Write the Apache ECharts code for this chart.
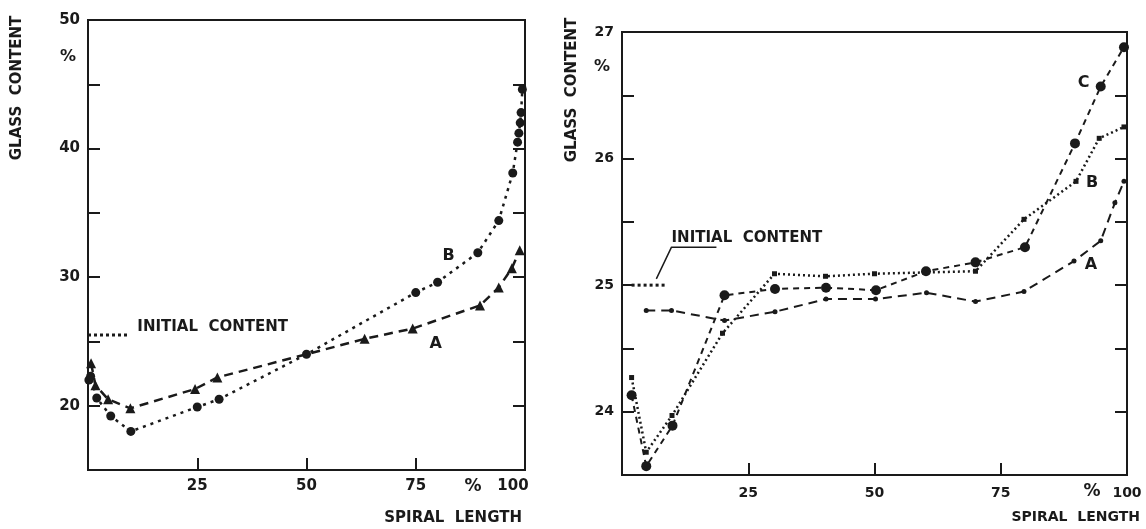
<!DOCTYPE html>
<html>
<head>
<meta charset="utf-8">
<script src="https://cdn.jsdelivr.net/npm/echarts@6/dist/echarts.min.js"></script>
<style>html,body{margin:0;padding:0;background:#fff}#c{width:1146px;height:529px}</style>
</head>
<body>
<div id="c"></div>
<script>
// ---- Left chart data: [spiral length %, glass content %]
const leftB = [[0.2,22.0],[0.6,22.3],[2,20.6],[5.2,19.2],[9.8,18.0],[25,19.9],[30,20.5],[50,24.0],[75,28.8],[80,29.6],[89.2,31.9],[94,34.4],[97.2,38.1],[98.3,40.5],[98.6,41.2],[98.9,42.0],[99.1,42.8],[99.4,44.6]];
const leftA = [[0.7,23.3],[1.7,21.6],[4.6,20.5],[9.7,19.8],[24.5,21.3],[29.6,22.2],[50,24.0],[63.3,25.2],[74.3,26.0],[89.7,27.8],[94,29.2],[97,30.7],[98.8,32.1]];
const leftInitial = [[0,25.5],[9,25.5]];
// ---- Right chart data
const rightA = [[4.8,24.80],[9.8,24.80],[20.3,24.72],[30.3,24.79],[40.4,24.89],[50.2,24.89],[60.3,24.94],[70,24.87],[79.6,24.95],[89.5,25.19],[94.8,25.35],[97.6,25.65],[99.4,25.82]];
const rightB = [[1.9,24.27],[4.8,23.68],[9.9,23.97],[19.9,24.62],[30.2,25.09],[40.3,25.07],[50,25.09],[60,25.10],[70,25.11],[79.6,25.52],[89.9,25.82],[94.5,26.16],[99.4,26.25]];
const rightC = [[1.9,24.13],[4.8,23.57],[10,23.89],[20.3,24.92],[30.3,24.97],[40.4,24.98],[50.3,24.96],[60.2,25.11],[70,25.18],[79.8,25.30],[89.7,26.12],[94.8,26.57],[99.4,26.88]];
const rightInitial = [[1.9,25.0],[9,25.0]];
const rightLeader = [[6.8,25.05],[9.8,25.30],[18.7,25.30]];
// ---- Axis settings / texts
const leftY = {min:15, max:50, interval:5};
const rightY = {min:23.5, max:27, interval:0.5};
const xRange = {min:0, max:100, interval:25};
const yTitle = 'GLASS  CONTENT';
const xTitle = 'SPIRAL  LENGTH';
const initialText = 'INITIAL  CONTENT';

const FONT = 'DejaVu Sans';
const INK = '#1a1a1a';

function withLabel(data, idx, text, offset, hideIdx) {
  return data.map((p, i) => {
    const o = {value: p};
    if (i === idx) o.label = {show:true, formatter:text, position:'inside', offset:offset, fontSize:16, fontWeight:'bold', color:INK, fontFamily:FONT};
    if (hideIdx !== undefined && hideIdx.indexOf(i) >= 0) o.symbol = 'none';
    return o;
  });
}

function xAxis(gi, fs, margin, shift100) {
  return {
    type:'value', gridIndex:gi, min:xRange.min, max:xRange.max, interval:xRange.interval,
    splitLine:{show:false},
    axisLine:{lineStyle:{color:INK, width:2}},
    axisTick:{inside:true, length:12, lineStyle:{color:INK, width:2}},
    axisLabel:{
      margin:margin, color:INK, fontSize:fs, fontWeight:'bold', fontFamily:FONT,
      showMinLabel:true, showMaxLabel:true,
      formatter:v => v === 0 ? '' : (v === 100 ? (shift100 ? '{n|100}{s|}' : '100') : String(v)),
      rich:{n:{fontSize:fs, fontWeight:'bold', fontFamily:FONT, color:INK}, s:{width:shift100||0}}
    }
  };
}
function yAxis(gi, cfg, fs, pos, fmt) {
  return {
    type:'value', gridIndex:gi, position:pos, min:cfg.min, max:cfg.max, interval:cfg.interval,
    splitLine:{show:false},
    axisLine:{show:true, lineStyle:{color:INK, width:2}},
    axisTick:{inside:true, length:12, lineStyle:{color:INK, width:2}},
    axisLabel:{show: pos === 'left', margin:8, color:INK, fontSize:fs, fontWeight:'bold', fontFamily:FONT, formatter:fmt}
  };
}

const chart = echarts.init(document.getElementById('c'), null, {renderer:'canvas'});
chart.setOption({
  animation:false,
  backgroundColor:'#fff',
  grid:[
    {left:88, top:20, width:437, height:450, show:true, borderColor:INK, borderWidth:2, backgroundColor:'transparent'},
    {left:622, top:32, width:505, height:443, show:true, borderColor:INK, borderWidth:2, backgroundColor:'transparent'}
  ],
  xAxis:[xAxis(0, 15, 9, 24), xAxis(1, 14, 11, 0)],
  yAxis:[
    yAxis(0, leftY, 15, 'left', v => (Math.abs(v % 10) < 1e-6 && v !== 15) ? String(v) : ''),
    yAxis(0, leftY, 15, 'right', ''),
    yAxis(1, rightY, 14, 'left', v => Math.abs(v - Math.round(v)) < 1e-6 ? String(Math.round(v)) : ''),
    yAxis(1, rightY, 14, 'right', '')
  ],
  series:[
    {type:'line', xAxisIndex:0, yAxisIndex:0, data:withLabel(leftB, 9, 'B', [11,-26]),
     symbol:'circle', symbolSize:9, itemStyle:{color:INK}, lineStyle:{color:INK, width:2.5, type:[3,5]}},
    {type:'line', xAxisIndex:0, yAxisIndex:0, data:withLabel(leftA, 8, 'A', [23,15], [6]),
     symbol:'triangle', symbolSize:10, itemStyle:{color:INK}, lineStyle:{color:INK, width:2.5, type:[9,6]}},
    {type:'line', xAxisIndex:0, yAxisIndex:0,
     data:leftInitial.map((p,i)=> i===leftInitial.length-1 ? {value:p, label:{show:true, formatter:initialText, position:'right', distance:10, offset:[0,-8], fontSize:15, fontWeight:'bold', color:INK, fontFamily:FONT}} : {value:p}),
     symbol:'circle', symbolSize:0.01, itemStyle:{color:INK}, lineStyle:{color:INK, width:3, type:[3,3]}},

    {type:'line', xAxisIndex:1, yAxisIndex:2, data:withLabel(rightA, 9, 'A', [17,4]),
     symbol:'circle', symbolSize:5, itemStyle:{color:INK}, lineStyle:{color:INK, width:2, type:[9,6]}},
    {type:'line', xAxisIndex:1, yAxisIndex:2, data:withLabel(rightB, 10, 'B', [16,1]),
     symbol:'rect', symbolSize:5, itemStyle:{color:INK}, lineStyle:{color:INK, width:2.5, type:[2,3]}},
    {type:'line', xAxisIndex:1, yAxisIndex:2, data:withLabel(rightC, 11, 'C', [-17,-4]),
     symbol:'circle', symbolSize:10, itemStyle:{color:INK}, lineStyle:{color:INK, width:2, type:[6,5]}},
    {type:'line', xAxisIndex:1, yAxisIndex:2, data:rightInitial,
     symbol:'none', lineStyle:{color:INK, width:3, type:[3,3]}},
    {type:'line', xAxisIndex:1, yAxisIndex:2,
     data:rightLeader.map((p,i)=> i===1 ? {value:p, label:{show:true, formatter:initialText, position:'right', distance:0, offset:[0,-9], fontSize:15, fontWeight:'bold', color:INK, fontFamily:FONT}} : {value:p}),
     symbol:'circle', symbolSize:0.01, itemStyle:{color:INK}, lineStyle:{color:INK, width:1.5, type:'solid'}}
  ],
  graphic:[
    {type:'text', x:17, y:88, rotation:Math.PI/2, style:{text:yTitle, font:'bold 15px "DejaVu Sans"', fill:INK, textAlign:'center', textVerticalAlign:'middle'}},
    {type:'text', x:572, y:90, rotation:Math.PI/2, style:{text:yTitle, font:'bold 15px "DejaVu Sans"', fill:INK, textAlign:'center', textVerticalAlign:'middle'}},
    {type:'text', x:68, y:57, style:{text:'%', font:'bold 16px "DejaVu Sans"', fill:INK, textAlign:'center', textVerticalAlign:'middle'}},
    {type:'text', x:602, y:67, style:{text:'%', font:'bold 16px "DejaVu Sans"', fill:INK, textAlign:'center', textVerticalAlign:'middle'}},
    {type:'text', x:473, y:487, style:{text:'%', font:'bold 17px "DejaVu Sans"', fill:INK, textAlign:'center', textVerticalAlign:'middle'}},
    {type:'text', x:1092, y:492, style:{text:'%', font:'bold 17px "DejaVu Sans"', fill:INK, textAlign:'center', textVerticalAlign:'middle'}},
    {type:'text', x:522, y:518, style:{text:xTitle, font:'bold 15px "DejaVu Sans"', fill:INK, textAlign:'right', textVerticalAlign:'middle'}},
    {type:'text', x:1140, y:517, style:{text:xTitle, font:'bold 14px "DejaVu Sans"', fill:INK, textAlign:'right', textVerticalAlign:'middle'}}
  ]
});
</script>
</body>
</html>
